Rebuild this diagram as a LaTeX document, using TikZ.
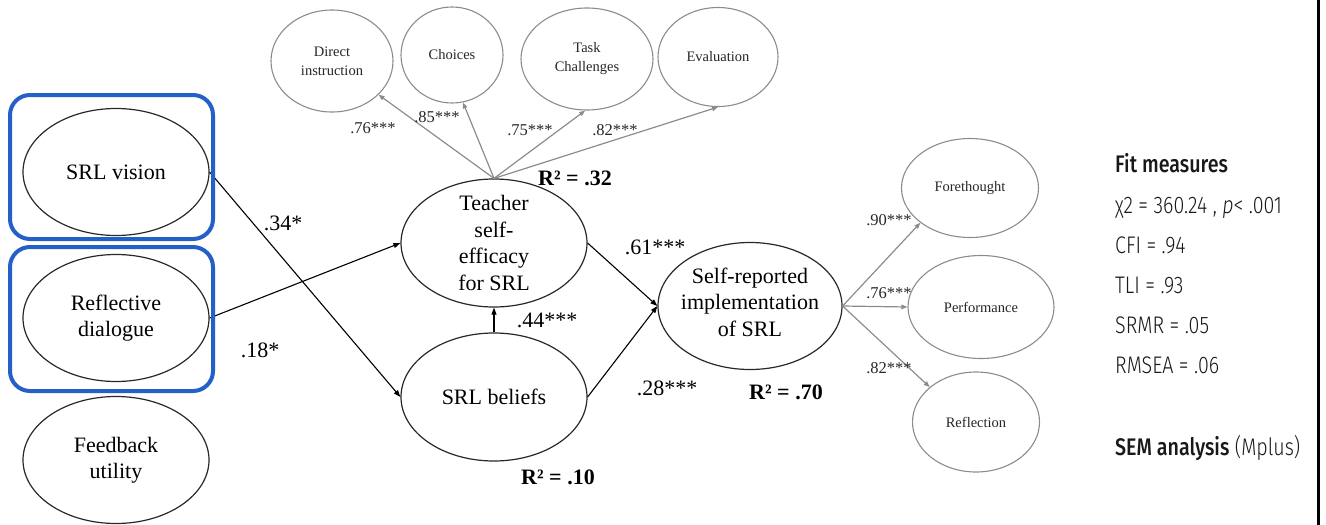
\documentclass[tikz,border=0pt]{standalone}
\usepackage{fontspec}
\setmainfont{Liberation Serif}
% condensed sans for the fit panel; light weights when available
\IfFontExistsTF{Fira Sans Light}
  {\newfontfamily\fitfont[FakeStretch=0.82]{Fira Sans Light}}
  {\newfontfamily\fitfont[FakeStretch=0.82]{Fira Sans}}
\IfFontExistsTF{Fira Sans Medium}
  {\newfontfamily\fitbold[FakeStretch=0.82]{Fira Sans Medium}}
  {\newfontfamily\fitbold[FakeStretch=0.82]{Fira Sans Bold}}
\IfFontExistsTF{Fira Sans Light Italic}
  {\newfontfamily\fitital[FakeStretch=0.82]{Fira Sans Light Italic}}
  {\newfontfamily\fitital[FakeStretch=0.82]{Fira Sans Italic}}
\usetikzlibrary{shapes.geometric,arrows.meta}

\definecolor{boxblue}{RGB}{36,96,200}
\definecolor{lightline}{RGB}{140,140,140}
\definecolor{darkline}{RGB}{40,40,40}

\tikzset{
  bigell/.style={ellipse, draw=darkline, line width=1.2pt, minimum width=186pt, minimum height=127pt, inner sep=0pt},
  bigtxt/.style={font=\fontsize{22}{26.5}\selectfont, align=center, inner sep=0pt, text=black},
  smallell/.style={ellipse, draw=lightline, line width=1.1pt, inner sep=0pt},
  smalltxt/.style={font=\fontsize{14.5}{19}\selectfont, align=center, inner sep=0pt, text=black!85},
  mainarrow/.style={draw=black, line width=1.1pt, -{Triangle[length=7pt,width=5pt]}},
  loadarrow/.style={draw=lightline, line width=1.2pt, -{Triangle[length=6pt,width=4.5pt]}},
  coef/.style={font=\fontsize{22}{24}\selectfont, inner sep=0pt},
  loadcoef/.style={font=\fontsize{16.5}{18}\selectfont, inner sep=0pt, text=black!85},
  rsq/.style={font=\bfseries\fontsize{22}{24}\selectfont, inner sep=0pt},
  fitline/.style={font=\fitfont\fontsize{24}{28}\selectfont, anchor=base west, inner sep=0pt, text=black!90},
  groupbox/.style={draw=boxblue, line width=4pt, rounded corners=20pt, inner sep=0pt},
}

\begin{document}
\begin{tikzpicture}[x=1pt,y=-1pt]
\useasboundingbox (0,0) rectangle (1326,525);

% predictors on the left
\node[bigell, label={[bigtxt]center:SRL vision}] (vision) at (116,172) {};
\node[bigell, label={[bigtxt]center:Reflective\\dialogue}] (reflective) at (116,318) {};
\node[bigell, label={[bigtxt]center:Feedback\\utility}] (feedback) at (116,460) {};

% latent constructs
\node[bigell, minimum height=128pt, label={[bigtxt]center:Teacher\\self-\\efficacy\\for SRL}] (teacher) at (494,243) {};
\node[bigell, minimum height=128pt, label={[bigtxt]center:SRL beliefs}] (beliefs) at (494,397) {};
\node[bigell, minimum width=184pt, label={[bigtxt, yshift=4pt]center:Self-reported\\implementation\\of SRL}] (selfrep) at (750,306) {};

% indicators of teacher self-efficacy
\node[smallell, minimum width=122pt, minimum height=102pt, label={[smalltxt]center:Direct\\instruction}] (direct) at (332,61) {};
\node[smallell, minimum width=102pt, minimum height=96pt, label={[smalltxt]center:Choices}] (choices) at (452,55) {};
\node[smallell, minimum width=132pt, minimum height=102pt, label={[smalltxt]center:Task\\Challenges}] (task) at (587,59) {};
\node[smallell, minimum width=120pt, minimum height=99pt, label={[smalltxt]center:Evaluation}] (evaluation) at (718,57) {};

% indicators of implementation
\node[smallell, minimum width=137pt, minimum height=99pt, label={[smalltxt]center:Forethought}] (forethought) at (970,188) {};
\node[smallell, minimum width=146pt, minimum height=103pt, label={[smalltxt]center:Performance}] (performance) at (981,307) {};
\node[smallell, minimum width=127pt, minimum height=100pt, label={[smalltxt]center:Reflection}] (reflection) at (976,422) {};

% structural paths
\draw[mainarrow] (vision.east) -- (beliefs.west);
\draw[mainarrow] (reflective.east) -- (teacher.west);
\draw[mainarrow] (beliefs.north) -- (teacher.south);
\draw[mainarrow] (teacher.east) -- (selfrep.west);
\draw[mainarrow] (beliefs.east) -- (selfrep.west);

% factor loadings
\draw[loadarrow] (teacher.north) -- (direct);
\draw[loadarrow] (teacher.north) -- (choices.-77);
\draw[loadarrow] (teacher.north) -- (task.-92);
\draw[loadarrow] (teacher.north) -- (evaluation.-90);
\draw[loadarrow] (selfrep.east) -- (forethought.-145);
\draw[loadarrow] (selfrep.east) -- (performance.west);
\draw[loadarrow] (selfrep.east) -- (reflection.143);

% coefficients
\node[coef] (c34) at (283,223) {.34*};
\node[coef] (c18) at (260,350) {.18*};
\node[coef] (c44) at (547,320) {.44***};
\node[coef] (c61) at (655,247) {.61***};
\node[coef] (c28) at (667,388) {.28***};

\node[loadcoef] (l76) at (373,128) {.76***};
\node[loadcoef] (l85) at (437,117) {.85***};
\node[loadcoef] (l75) at (530,130) {.75***};
\node[loadcoef] (l82) at (615,130) {.82***};
\node[loadcoef] (l90) at (889,220) {.90***};
\node[loadcoef] (l76b) at (889,293) {.76***};
\node[loadcoef] (l82b) at (889,368) {.82***};

\node[rsq] (r32) at (575,178) {R² = .32};
\node[rsq] (r70) at (786,392) {R² = .70};
\node[rsq] (r10) at (558,477) {R² = .10};

% groups of predictors
\node[groupbox, minimum width=203pt, minimum height=144pt] (groupA) at (111.5,167) {};
\node[groupbox, minimum width=203pt, minimum height=144pt] (groupB) at (111.5,319) {};

% fit measures panel
\node[fitline] (fithead) at (1115,172) {\fitbold Fit measures};
\node[fitline] (fitchi) at (1115,213) {χ2 = 360.24 , {\fitital p}< .001};
\node[fitline] (fitcfi) at (1115,253) {CFI = .94};
\node[fitline] (fittli) at (1115,293) {TLI = .93};
\node[fitline] (fitsrmr) at (1115,333) {SRMR = .05};
\node[fitline] (fitrmsea) at (1115,373) {RMSEA = .06};
\node[fitline] (fitsem) at (1115,455) {{\fitbold SEM analysis} (Mplus)};

% panel edge
\draw[line width=3pt, black] (1318,0) -- (1318,525);
\end{tikzpicture}
\end{document}
